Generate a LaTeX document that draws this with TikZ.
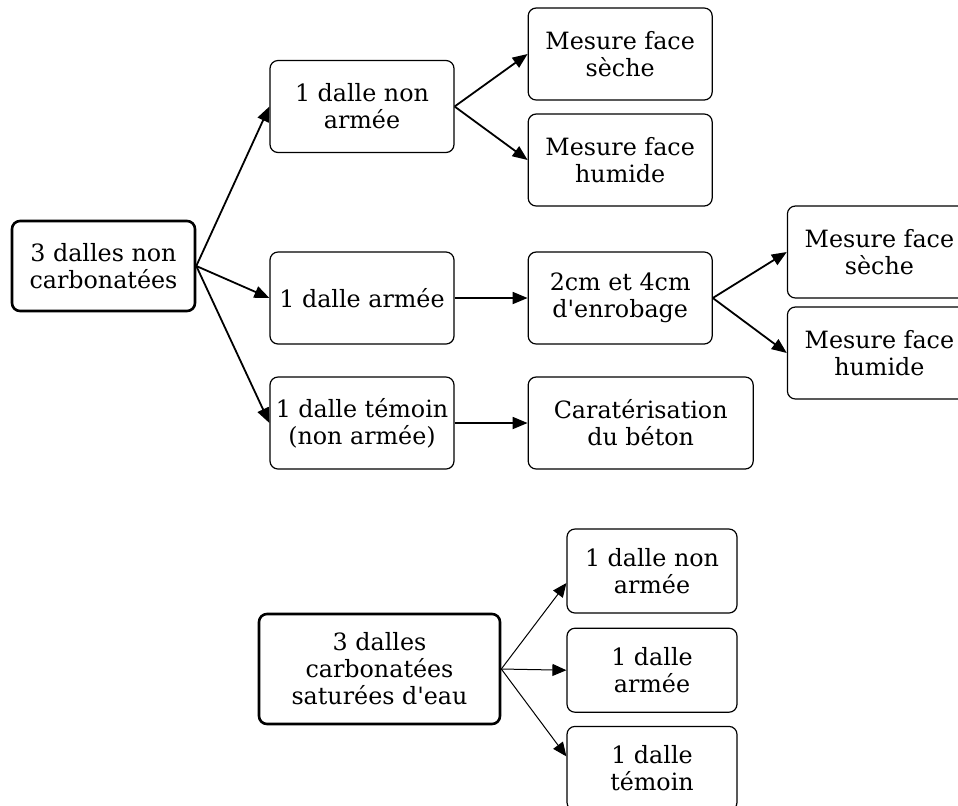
\documentclass[tikz,border=0pt]{standalone}
\usepackage{fontspec}
\setmainfont{DejaVu Serif}
\usetikzlibrary{positioning,arrows.meta}

\begin{document}
\begin{tikzpicture}[x=0.5pt, y=-0.5pt,
  box_/.style={rectangle, rounded corners=4pt, draw=black, line width=0.6pt, align=center,
    font=\fontsize{11.9pt}{13.5pt}\selectfont, inner sep=2pt, minimum width=92pt, minimum height=46pt},
  smallbox/.style={box_, minimum width=85pt, minimum height=42pt},
  rootbox/.style={box_, line width=1.3pt},
  arr/.style={-{Triangle[length=7.5pt,width=6pt]}, line width=0.9pt},
  arrthin/.style={-{Triangle[length=7pt,width=6pt]}, line width=0.5pt}
]
\useasboundingbox (0,0) rectangle (958,805);
\clip (0,0) rectangle (958,805);

% non carbonated slabs
\node[rootbox, minimum width=91.5pt, minimum height=45pt] (root1) at (103.5,266) {3 dalles non\\carbonatées};
\node[box_] (nonarm) at (362,106.5) {1 dalle non\\armée};
\node[box_] (arm) at (362,298) {1 dalle armée};
\node[box_] (temoin) at (362,423) {1 dalle témoin\\(non armée)};

\node[box_, right=36.5pt of nonarm, yshift=26.25pt] (seche1) {Mesure face\\sèche};
\node[box_, right=36.5pt of nonarm, yshift=-26.75pt] (humide1) {Mesure face\\humide};
\node[box_, right=36.5pt of arm] (enrob) {2cm et 4cm\\d\textquotesingle enrobage};
\node[box_, minimum width=112.5pt, right=36.5pt of temoin] (carac) {Caratérisation\\du béton};
\node[box_, right=37pt of enrob, yshift=23pt] (seche2) {Mesure face\\sèche};
\node[box_, right=37pt of enrob, yshift=-27.5pt] (humide2) {Mesure face\\humide};

\draw[arr] (root1.east) -- (nonarm.west);
\draw[arr] (root1.east) -- (arm.west);
\draw[arr] (root1.east) -- (temoin.west);
\draw[arr] (nonarm.east) -- (seche1.west);
\draw[arr] (nonarm.east) -- (humide1.west);
\draw[arr] (arm) -- (enrob);
\draw[arr] (temoin) -- (carac);
\draw[arr] (enrob.east) -- (seche2.west);
\draw[arr] (enrob.east) -- (humide2.west);

% carbonated slabs
\node[rootbox, minimum width=120.5pt, minimum height=55pt] (root2) at (379.5,669) {3 dalles\\carbonatées\\saturées d\textquotesingle eau};
\node[smallbox] (d1) at (652,571) {1 dalle non\\armée};
\node[smallbox, below=7pt of d1] (d2) {1 dalle\\armée};
\node[smallbox, below=6.5pt of d2] (d3) {1 dalle\\témoin};

\draw[arrthin] (root2.east) -- ([yshift=-6pt]d1.west);
\draw[arrthin] (root2.east) -- (d2.west);
\draw[arrthin] (root2.east) -- ([yshift=6pt]d3.west);
\end{tikzpicture}
\end{document}
